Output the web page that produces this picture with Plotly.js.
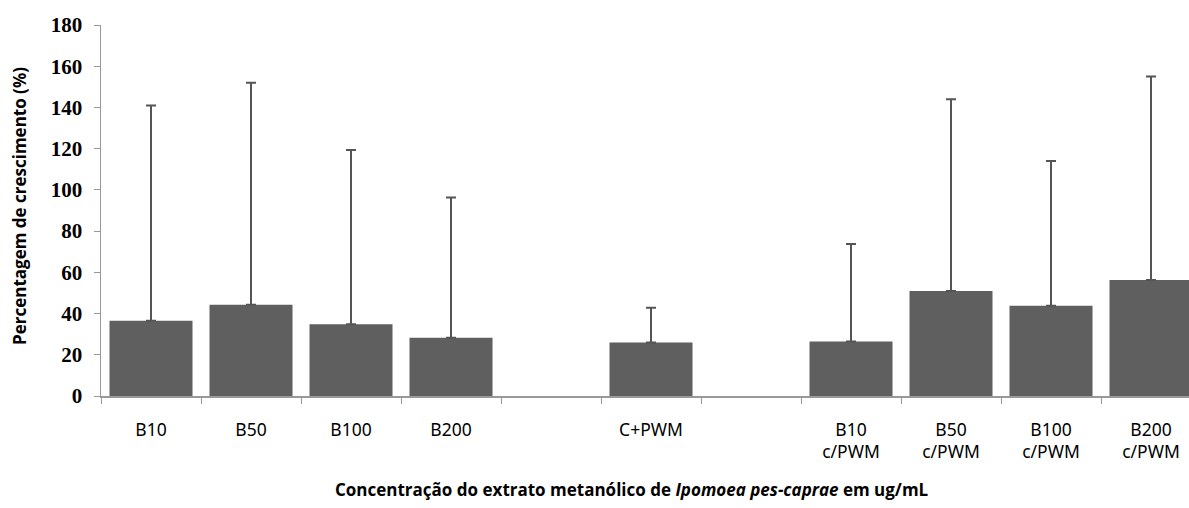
<!DOCTYPE html>
<html>
<head>
<meta charset="utf-8">
<script src="https://cdn.plot.ly/plotly-3.0.1.min.js"></script>
<style>html,body{margin:0;padding:0;background:#fff;}#chart{width:1189px;height:508px;}</style>
</head>
<body>
<div id="chart"></div>
<script>
// All category slots along the x axis (gap slots are empty)
const slots = ['B10','B50','B100','B200','gap1','C+PWM','gap2','B10 c/PWM','B50 c/PWM','B100 c/PWM','B200 c/PWM'];
const slotLabels = ['B10','B50','B100','B200','','C+PWM','','B10<br>c/PWM','B50<br>c/PWM','B100<br>c/PWM','B200<br>c/PWM'];
// Bars drawn
const categories = ['B10','B50','B100','B200','C+PWM','B10 c/PWM','B50 c/PWM','B100 c/PWM','B200 c/PWM'];
const growth = [36.5, 44.3, 34.8, 28.3, 25.9, 26.5, 51.0, 43.8, 56.3];
const errTop = [141, 152, 119.3, 96.3, 42.8, 73.7, 144, 114, 155];
const errPlus = growth.map((v,i)=>errTop[i]-v);
const yTicks = [0,20,40,60,80,100,120,140,160,180];

const trace = {
  type:'bar', x:categories, y:growth,
  marker:{color:'#5f5f5f'},
  error_y:{type:'data', array:errPlus, arrayminus:growth.map(()=>0), symmetric:false, visible:true, color:'#555', thickness:2, width:5},
  hoverinfo:'skip'
};

const layout = {
  width:1189, height:508,
  margin:{l:101, r:0, t:25, b:112},
  paper_bgcolor:'#fff', plot_bgcolor:'#fff',
  showlegend:false,
  bargap:0.17,
  xaxis:{
    type:'category', categoryorder:'array', categoryarray:slots,
    range:[-0.5, 10.38],
    tickmode:'array', tickvals:slots, ticktext:slotLabels,
    tickson:'boundaries', ticks:'outside', ticklen:6, tickcolor:'#999', tickwidth:1,
    ticklabelstandoff:17,
    showline:true, linecolor:'#999', linewidth:1.5,
    showgrid:false, zeroline:false,
    tickfont:{family:'Noto Sans', size:17.5, color:'#000'}
  },
  yaxis:{
    range:[0,180], tickmode:'array', tickvals:yTicks,
    ticks:'outside', ticklen:6, tickcolor:'#999', tickwidth:1,
    ticklabelstandoff:7,
    showline:true, linecolor:'#999', linewidth:1.5,
    showgrid:false, zeroline:false,
    tickfont:{family:'Liberation Serif', size:21, color:'#000', weight:'bold'}
  },
  annotations:[
    {text:'<b>Percentagem de crescimento (%)</b>', xref:'paper', yref:'paper', x:-0.0754, y:0.512, textangle:-90, showarrow:false, xanchor:'center', yanchor:'middle', font:{family:'Open Sans', size:17, color:'#000'}},
    {text:'<b>Concentração do extrato metanólico de <i>Ipomoea pes-caprae</i> em ug/mL</b>', xref:'paper', yref:'paper', x:0.488, y:-0.253, showarrow:false, xanchor:'center', yanchor:'middle', font:{family:'Open Sans', size:17, color:'#000'}}
  ]
};

Plotly.newPlot('chart',[trace],layout,{displayModeBar:false, staticPlot:true});
</script>
</body>
</html>
